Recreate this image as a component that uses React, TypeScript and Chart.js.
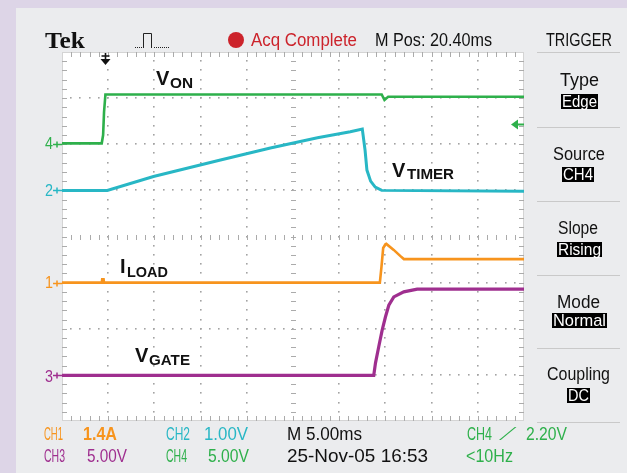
import React, { useEffect, useLayoutEffect, useRef } from "react";
import { Chart, registerables } from "chart.js";

Chart.register(...registerables);

// Horizontal: time in ms from the left edge of the screen (10 div x 5.00 ms/div)
const timeMin = 0;
const timeMax = 50;
const msPerDiv = 5;
// Vertical: screen divisions (8 div), each channel has its own ground offset
const divMin = 0;
const divMax = 8;

// CH4 V_ON
const vonT = [0, 4.3, 4.45, 4.55, 4.7, 34.6, 34.9, 35.3, 50];
const vonY = [6.02, 6.02, 6.2, 6.7, 7.08, 7.08, 6.96, 7.03, 7.03];
// CH2 V_TIMER
const vtimerT = [0, 4.9, 9.9, 17.15, 22.55, 27.65, 31.2, 32.5, 32.8, 33.0, 33.4, 33.9, 34.6, 50];
const vtimerY = [5.0, 5.0, 5.3, 5.66, 5.92, 6.14, 6.27, 6.33, 5.87, 5.44, 5.2, 5.07, 5.0, 4.98];
// CH1 I_LOAD
const iloadT = [0, 4.3, 4.35, 4.5, 4.55, 34.4, 34.58, 34.76, 35.0, 35.1, 35.9, 36.6, 37.0, 50];
const iloadY = [3.0, 3.0, 3.07, 3.07, 3.0, 3.0, 3.35, 3.75, 3.83, 3.84, 3.71, 3.58, 3.51, 3.51];
// CH3 V_GATE
const vgateT = [0, 33.74, 33.93, 34.29, 34.65, 35.01, 35.37, 35.91, 36.99, 38.44, 50];
const vgateY = [0.99, 0.99, 1.26, 1.62, 1.97, 2.26, 2.51, 2.69, 2.8, 2.86, 2.86];

// channel ground markers
const markerLabels = ["4", "2", "1", "3"];
const markerDivs = [6, 5, 3, 1];

// trigger
const mPosMs = 20.4;
const trigLevelV = 2.2;
const ch4VoltsPerDiv = 5;
const ch4OffsetDiv = 6;

const GREEN = "#2eb04b";
const CYAN = "#28b7c5";
const ORANGE = "#f7941d";
const PURPLE = "#9f2f8f";
const RED = "#cc232b";
const SANS = "'Liberation Sans', Arial, sans-serif";
const SERIF = "'Liberation Serif', 'Times New Roman', serif";

const markerColors = [GREEN, CYAN, ORANGE, PURPLE];

const pts = (t: number[], y: number[]) => t.map((v, i) => ({ x: v, y: y[i] }));

const scopePlugin = {
  id: "scopeGrid",
  beforeDraw(chart: any) {
    const { ctx, chartArea: a } = chart;
    ctx.save();
    ctx.fillStyle = "#ffffff";
    ctx.fillRect(a.left, a.top, a.right - a.left, a.bottom - a.top);
    ctx.strokeStyle = "#d4d4d4";
    ctx.lineWidth = 1;
    ctx.strokeRect(a.left + 0.5, a.top + 0.5, a.right - a.left - 1, a.bottom - a.top - 1);
    ctx.restore();
  },
  beforeDatasetsDraw(chart: any) {
    const { ctx, chartArea: a } = chart;
    const xs = chart.scales.x;
    const ys = chart.scales.y;
    ctx.save();
    const nx = (timeMax - timeMin) / msPerDiv;
    const ny = divMax - divMin;
    // dotted graticule
    ctx.fillStyle = "#a3a3a3";
    for (let i = 1; i < nx; i++) {
      if (i === nx / 2) continue;
      const px = Math.round(xs.getPixelForValue(timeMin + i * msPerDiv));
      for (let k = 1; k < ny * 5; k++) {
        const py = Math.round(ys.getPixelForValue(divMin + k * 0.2));
        ctx.fillRect(px - 1, py - 1, 1.6, 1.6);
      }
    }
    for (let j = 1; j < ny; j++) {
      if (j === ny / 2) continue;
      const py = Math.round(ys.getPixelForValue(divMin + j));
      for (let k = 1; k < nx * 5; k++) {
        const px = Math.round(xs.getPixelForValue(timeMin + k * msPerDiv * 0.2));
        ctx.fillRect(px - 1, py - 1, 1.6, 1.6);
      }
    }
    // center cross ticks & border ticks
    ctx.strokeStyle = "#ababab";
    ctx.lineWidth = 1;
    ctx.beginPath();
    const cx = Math.round(xs.getPixelForValue((timeMin + timeMax) / 2)) + 0.5;
    const cy = Math.round(ys.getPixelForValue((divMin + divMax) / 2)) + 0.5;
    for (let k = 1; k < ny * 5; k++) {
      const py = Math.round(ys.getPixelForValue(divMin + k * 0.2)) + 0.5;
      ctx.moveTo(cx - 2.5, py);
      ctx.lineTo(cx + 2.5, py);
      ctx.moveTo(a.left, py);
      ctx.lineTo(a.left + 5, py);
      ctx.moveTo(a.right - 5, py);
      ctx.lineTo(a.right, py);
    }
    for (let k = 1; k < nx * 5; k++) {
      const px = Math.round(xs.getPixelForValue(timeMin + k * msPerDiv * 0.2)) + 0.5;
      ctx.moveTo(px, cy - 2.5);
      ctx.lineTo(px, cy + 2.5);
      ctx.moveTo(px, a.top);
      ctx.lineTo(px, a.top + 5);
      ctx.moveTo(px, a.bottom - 5);
      ctx.lineTo(px, a.bottom);
    }
    ctx.stroke();
    ctx.restore();
  },
  afterDraw(chart: any) {
    const { ctx, chartArea: a } = chart;
    const xs = chart.scales.x;
    const ys = chart.scales.y;
    ctx.save();
    // trigger position arrow (top)
    const tx = Math.round(xs.getPixelForValue((timeMin + timeMax) / 2 - mPosMs)) + 0.5;
    ctx.strokeStyle = "#111";
    ctx.fillStyle = "#111";
    ctx.lineWidth = 1.6;
    ctx.beginPath();
    ctx.moveTo(tx, a.top + 1);
    ctx.lineTo(tx, a.top + 8);
    ctx.moveTo(tx - 4, a.top + 4);
    ctx.lineTo(tx + 4, a.top + 4);
    ctx.stroke();
    ctx.beginPath();
    ctx.moveTo(tx - 5, a.top + 7);
    ctx.lineTo(tx + 5, a.top + 7);
    ctx.lineTo(tx, a.top + 13);
    ctx.closePath();
    ctx.fill();
    // trigger level arrow (right)
    const ly = Math.round(ys.getPixelForValue(ch4OffsetDiv + trigLevelV / ch4VoltsPerDiv)) + 0.5;
    ctx.fillStyle = GREEN;
    ctx.strokeStyle = GREEN;
    ctx.lineWidth = 2;
    ctx.beginPath();
    ctx.moveTo(a.right - 7, ly);
    ctx.lineTo(a.right, ly);
    ctx.stroke();
    ctx.beginPath();
    ctx.moveTo(a.right - 13, ly);
    ctx.lineTo(a.right - 6, ly - 5);
    ctx.lineTo(a.right - 6, ly + 5);
    ctx.closePath();
    ctx.fill();
    // channel ground markers (left)
    markerDivs.forEach((d, i) => {
      const py = Math.round(ys.getPixelForValue(d)) + 0.5;
      ctx.strokeStyle = markerColors[i];
      ctx.lineWidth = 1.5;
      ctx.beginPath();
      ctx.moveTo(a.left - 9, py);
      ctx.lineTo(a.left, py);
      ctx.moveTo(a.left - 5, py - 3);
      ctx.lineTo(a.left - 5, py + 3);
      ctx.stroke();
    });
    // acquisition pulse icon near "Tek"
    ctx.strokeStyle = "#222";
    ctx.fillStyle = "#222";
    ctx.lineWidth = 1;
    for (let x = 135; x <= 142; x += 2) ctx.fillRect(x, 47, 1, 1);
    for (let x = 154; x <= 168; x += 2) ctx.fillRect(x, 47, 1, 1);
    ctx.beginPath();
    ctx.moveTo(143.5, 48);
    ctx.lineTo(143.5, 33.5);
    ctx.lineTo(151.5, 33.5);
    ctx.lineTo(151.5, 48);
    ctx.stroke();
    // acq status dot
    ctx.fillStyle = RED;
    ctx.beginPath();
    ctx.arc(236, 40, 8, 0, Math.PI * 2);
    ctx.fill();
    ctx.restore();
  },
};

type TxtProps = {
  x: number;
  base: number;
  size: number;
  w?: number;
  color?: string;
  bold?: boolean;
  family?: string;
  children: React.ReactNode;
};

function Txt({ x, base, size, w, color = "#111", bold = false, family = SANS, children }: TxtProps) {
  const ref = useRef<HTMLSpanElement>(null);
  useLayoutEffect(() => {
    const el = ref.current;
    if (!el || !w) return;
    el.style.transform = "";
    const nat = el.getBoundingClientRect().width;
    if (nat > 0) el.style.transform = `scaleX(${w / nat})`;
  }, [w]);
  return (
    <span
      ref={ref}
      style={{
        position: "absolute",
        left: x,
        top: base - 0.85 * size,
        fontSize: size,
        lineHeight: `${size}px`,
        fontFamily: family,
        fontWeight: bold ? 700 : 400,
        color,
        whiteSpace: "nowrap",
        transformOrigin: "left top",
        display: "inline-block",
      }}
    >
      {children}
    </span>
  );
}

function Box({ x, y, w, h, children }: { x: number; y: number; w: number; h: number; children: React.ReactNode }) {
  return (
    <>
      <div style={{ position: "absolute", left: x, top: y, width: w, height: h, background: "#000" }} />
      <Txt x={x + 1} base={y + h - 2} size={17} w={w - 2} color="#fff">
        {children}
      </Txt>
    </>
  );
}

export default function App() {
  const canvasRef = useRef<HTMLCanvasElement>(null);

  useEffect(() => {
    const canvas = canvasRef.current;
    if (!canvas) return;
    const chart = new Chart(canvas, {
      type: "line",
      data: {
        datasets: [
          { label: "V_ON", data: pts(vonT, vonY), borderColor: GREEN, borderWidth: 2.6 },
          { label: "V_TIMER", data: pts(vtimerT, vtimerY), borderColor: CYAN, borderWidth: 3 },
          { label: "I_LOAD", data: pts(iloadT, iloadY), borderColor: ORANGE, borderWidth: 2.6 },
          { label: "V_GATE", data: pts(vgateT, vgateY), borderColor: PURPLE, borderWidth: 3.2 },
        ],
      },
      options: {
        animation: false,
        responsive: false,
        maintainAspectRatio: false,
        devicePixelRatio: 1,
        layout: { padding: { left: 62, top: 52, right: 103, bottom: 52 } },
        elements: { point: { radius: 0 }, line: { tension: 0, fill: false } },
        scales: {
          x: { type: "linear", min: timeMin, max: timeMax, display: false },
          y: { type: "linear", min: divMin, max: divMax, display: false },
        },
        plugins: { legend: { display: false }, tooltip: { enabled: false }, title: { display: false } },
      },
      plugins: [scopePlugin],
    });
    return () => chart.destroy();
  }, []);

  return (
    <div style={{ position: "fixed", left: 0, top: 0, width: 627, height: 473, overflow: "hidden", background: "#ddd5e7" }}>
      <div style={{ position: "absolute", left: 16, top: 8, right: 0, bottom: 0, background: "#ebecee" }} />
      {[52, 127, 201, 275, 348, 422].map((y) => (
        <div key={y} style={{ position: "absolute", left: 537, top: y, width: 83, height: 1, background: "#c9c9c9" }} />
      ))}
      <canvas ref={canvasRef} width={627} height={473} style={{ position: "absolute", left: 0, top: 0, width: 627, height: 473 }} />

      {/* top bar */}
      <Txt x={45} base={48} size={24} w={40} bold family={SERIF}>Tek</Txt>
      <Txt x={251} base={46} size={18} w={106} color={RED}>Acq Complete</Txt>
      <Txt x={375} base={46} size={18} w={117}>M Pos: 20.40ms</Txt>
      <Txt x={546} base={46} size={18} w={66}>TRIGGER</Txt>

      {/* trigger menu */}
      <Txt x={560} base={86} size={18} w={39}>Type</Txt>
      <Box x={561} y={94} w={37} h={15}>Edge</Box>
      <Txt x={553} base={160} size={18} w={52}>Source</Txt>
      <Box x={562} y={167} w={32} h={15}>CH4</Box>
      <Txt x={558} base={234} size={18} w={40}>Slope</Txt>
      <Box x={557} y={242} w={45} h={15}>Rising</Box>
      <Txt x={557} base={308} size={18} w={43}>Mode</Txt>
      <Box x={552} y={313} w={55} h={15}>Normal</Box>
      <Txt x={547} base={380} size={18} w={63}>Coupling</Txt>
      <Box x={567} y={388} w={23} h={15}>DC</Box>

      {/* channel ground labels */}
      <Txt x={45} base={149} size={17} w={8} color={GREEN}>{markerLabels[0]}</Txt>
      <Txt x={45} base={196} size={17} w={8} color={CYAN}>{markerLabels[1]}</Txt>
      <Txt x={45} base={288} size={17} w={8} color={ORANGE}>{markerLabels[2]}</Txt>
      <Txt x={45} base={382} size={17} w={8} color={PURPLE}>{markerLabels[3]}</Txt>

      {/* trace labels */}
      <Txt x={156} base={85} size={20} bold>V</Txt>
      <Txt x={170} base={88} size={14} w={23} bold>ON</Txt>
      <Txt x={392} base={177} size={20} bold>V</Txt>
      <Txt x={407} base={179} size={14} w={47} bold>TIMER</Txt>
      <Txt x={120} base={273} size={20} bold>I</Txt>
      <Txt x={127} base={277} size={14} w={41} bold>LOAD</Txt>
      <Txt x={135} base={362} size={20} bold>V</Txt>
      <Txt x={149} base={365} size={14} w={41} bold>GATE</Txt>

      {/* bottom status */}
      <Txt x={44} base={440} size={18} w={19} color={ORANGE}>CH1</Txt>
      <Txt x={83} base={440} size={18} w={34} color={ORANGE} bold>1.4A</Txt>
      <Txt x={166} base={440} size={18} w={24} color={CYAN}>CH2</Txt>
      <Txt x={204} base={440} size={18} w={44} color={CYAN}>1.00V</Txt>
      <Txt x={287} base={440} size={18} w={75}>M 5.00ms</Txt>
      <Txt x={467} base={440} size={18} w={25} color={GREEN}>CH4</Txt>
      <Txt x={499} base={440} size={18} w={18} color={GREEN}>⟋</Txt>
      <Txt x={526} base={440} size={18} w={41} color={GREEN}>2.20V</Txt>

      <Txt x={44} base={462} size={18} w={21} color={PURPLE}>CH3</Txt>
      <Txt x={87} base={462} size={18} w={40} color={PURPLE}>5.00V</Txt>
      <Txt x={166} base={462} size={18} w={21} color={GREEN}>CH4</Txt>
      <Txt x={208} base={462} size={18} w={41} color={GREEN}>5.00V</Txt>
      <Txt x={287} base={462} size={18} w={141}>25-Nov-05 16:53</Txt>
      <Txt x={466} base={462} size={18} w={47} color={GREEN}>&lt;10Hz</Txt>
    </div>
  );
}
